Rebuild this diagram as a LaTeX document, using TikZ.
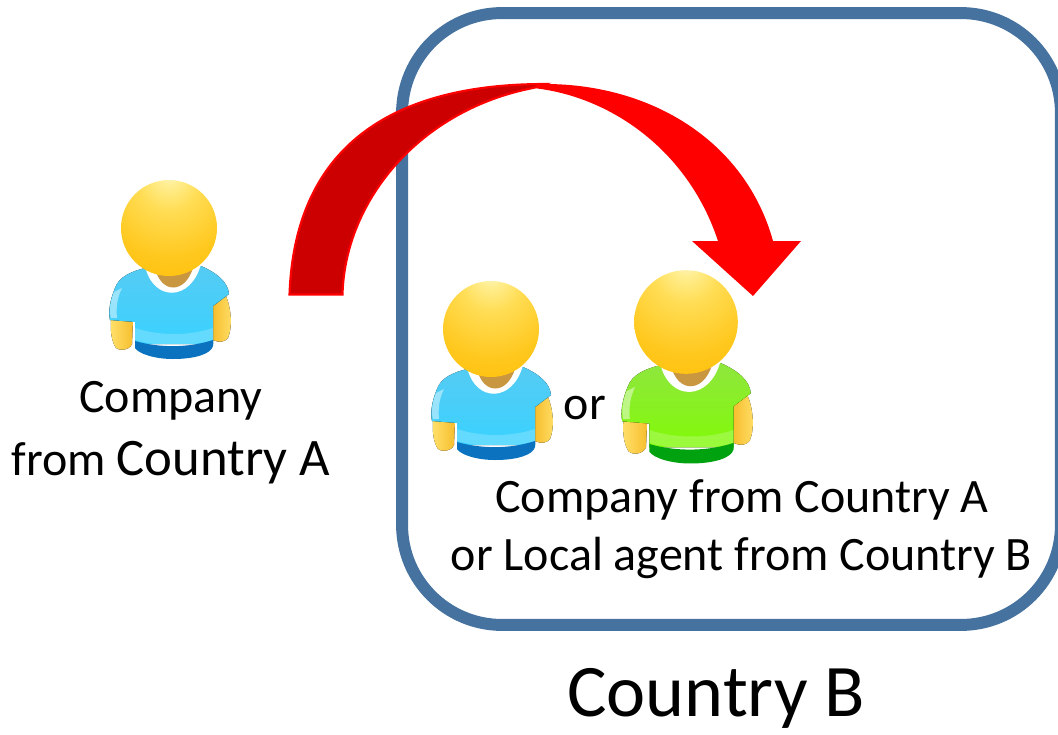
\documentclass[tikz,border=0pt]{standalone}
\usepackage{fontspec}
\setmainfont{Carlito}
\definecolor{headA}{HTML}{F8F6D0}
\definecolor{headB}{HTML}{FFEE90}
\definecolor{headC}{HTML}{FFDD55}
\definecolor{headD}{HTML}{FFC81E}
\definecolor{headE}{HTML}{FFBB00}
\definecolor{headF}{HTML}{FFC210}
\definecolor{headG}{HTML}{FFD84A}
\pgfdeclareradialshading{headball}{\pgfpoint{0bp}{30bp}}{
  color(0bp)=(headA);
  color(6bp)=(headB);
  color(16bp)=(headC);
  color(35bp)=(headD);
  color(55bp)=(headE);
  color(68bp)=(headF);
  color(80bp)=(headG);
  color(100bp)=(headG)}
\definecolor{frameblue}{HTML}{45729F}
\definecolor{arrowdark}{HTML}{CC0000}
\definecolor{skin}{HTML}{F7BE2E}
\definecolor{skinlight}{HTML}{FFE06A}
\definecolor{neckbrown}{HTML}{C9973F}
\definecolor{shirtblue}{HTML}{55CBF3}
\definecolor{shirtbluelow}{HTML}{3AD2FF}
\definecolor{bandblue}{HTML}{0A72BE}
\definecolor{shirtgreen}{HTML}{8FE63E}
\definecolor{shirtgreenlow}{HTML}{82FA08}
\definecolor{bandgreen}{HTML}{00A210}
\tikzset{
  label/.style = {font = \fontsize{27.3}{30}\selectfont, anchor = base, inner sep = 0pt, outer sep = 0pt},
  frame/.style = {draw = frameblue, line width = 6.8pt, rounded corners = 2cm, inner sep = 0pt, outer sep = 0pt, minimum width = 13.18cm, minimum height = 12.24cm},
  pics/person/.style n args = {3}{code = {
    % arms
    \fill [left color = skinlight, right color = skin]
    (-58,92) -- (-36,92) -- (-37,116) .. controls (-40,123) and (-50,123) .. (-53,120) .. controls (-57,114) and (-59,104) .. (-58,92) -- cycle;
    \fill [left color = skin, right color = skinlight]
    (44,112) -- (44,78) -- (57,68) .. controls (62,80) and (64,98) .. (59,110) .. controls (56,114) and (50,115) .. (44,112) -- cycle;
    % shirt
    \fill [top color = #1, bottom color = #2]
    (-24,40) .. controls (-36,43) and (-50,48) .. (-54,60) .. controls (-59,72) and (-61,84) .. (-59,92)
    -- (-34,94) -- (-34,116) -- (44,116) -- (44,78) -- (60,66) .. controls (59,54) and (48,45) .. (32,38) -- cycle;
    \fill [white, opacity = .45] (-55,64) .. controls (-59,74) and (-60,84) .. (-58,90) -- (-52,90) .. controls (-53,80) and (-52,70) .. (-47,60) -- cycle;
    \fill [white, opacity = .2] (-34,100) .. controls (-10,108) and (20,108) .. (44,100) -- (44,112) .. controls (20,119) and (-10,119) .. (-34,112) -- cycle;
    % band
    \fill [#3] (-34,113) .. controls (-10,120) and (20,120) .. (44,112) -- (44,118) .. controls (42,126) and (26,131) .. (4,131) .. controls (-14,131) and (-30,126) .. (-34,120) -- cycle;
    % neck and collar
    \fill [white] (-24,38) .. controls (-16,74) and (22,74) .. (32,36) -- cycle;
    \fill [neckbrown] (-14,40) .. controls (-8,66) and (16,66) .. (24,40) -- cycle;
    % head
    \shade [shading = headball] (0,0) circle (48);
  }}
}

\begin{document}
\begin{tikzpicture}[x = 0.02cm, y = -0.02cm]
    \useasboundingbox (0,0) rectangle (1058,734);

    \node [frame] (countryB) at (731.5,319) {};

    \pic at (169,228) {person = {shirtblue}{shirtbluelow}{bandblue}};
    \pic at (491,329) {person = {shirtblue}{shirtbluelow}{bandblue}};
    \pic [scale = 1.08] at (686,322) {person = {shirtgreen}{shirtgreenlow}{bandgreen}};

    % curved arrow
    \fill [red]
    (533,88) .. controls (610,96) and (688,150) .. (718,241)
    -- (692,241) -- (753,296) -- (801,241) -- (773,241)
    .. controls (745,140) and (650,84) .. (545,84) -- cycle;

    \draw [red, fill = arrowdark, line width = 1.2pt]
    (289.5,294.5) .. controls (295,140) and (400,84) .. (545,84)
    -- (533,88) .. controls (420,110) and (345,200) .. (342.5,294.5) -- cycle;

    \node [label] (companyA) at (171,412) {Company};
    \node [label] (fromA) at (171,475) {from {\fontsize{30}{30}\selectfont Country A}};
    \node [label] (orLabel) at (585,419) {or};
    \node [label] (companyB) at (742,512) {Company from Country A};
    \node [label] (agentB) at (741.5,570) {or Local agent from Country B};
    \node [label, font = \fontsize{42.2}{46}\selectfont] (nameB) at (716,716) {Country B};
\end{tikzpicture}
\end{document}
